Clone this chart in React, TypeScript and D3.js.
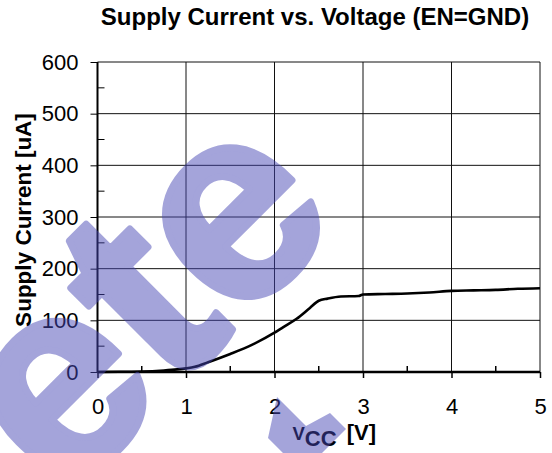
import * as d3 from 'd3';
import { useEffect, useRef } from 'react';

const WIDTH = 552;
const HEIGHT = 453;

const TITLE = 'Supply Current vs. Voltage (EN=GND)';
const Y_LABEL = 'Supply Current [uA]';

// supply current, VCC in volts, current in uA
const vcc = [0, 0.25, 0.5, 0.75, 0.9, 1.0, 1.1, 1.25, 1.5, 1.75, 2.0, 2.1, 2.25, 2.4, 2.5, 2.6, 2.75, 2.95, 3.0, 3.25, 3.5, 3.75, 4.0, 4.25, 4.5, 4.75, 5.0];
const current = [0, 0.5, 1, 3, 5, 7, 10, 19, 35, 53, 76, 87, 103, 124, 138, 142, 146, 147, 150, 151, 152, 154, 157, 158, 159, 161, 162];

const xTicks = [0, 1, 2, 3, 4, 5];
const xMinorTicks = [0.5, 1.5, 2.5, 3.5, 4.5];
const yTicks = [0, 100, 200, 300, 400, 500, 600];
const yMinorTicks = [50, 150, 250, 350, 450, 550];

const FONT = 'Arial, "Liberation Sans", Helvetica, sans-serif';

export default function App() {
    const svgRef = useRef<SVGSVGElement | null>(null);

    useEffect(() => {
        if (!svgRef.current) {
            return;
        }
        const svg = d3.select(svgRef.current);
        svg.selectAll('*').remove();

        const margin = { top: 62, right: 12, bottom: 81, left: 97.5 };
        const innerW = WIDTH - margin.left - margin.right;
        const innerH = HEIGHT - margin.top - margin.bottom;

        const x = d3.scaleLinear().domain([0, 5]).range([0, innerW]);
        const y = d3.scaleLinear().domain([0, 600]).range([innerH, 0]);

        const g = svg
            .append('g')
            .attr('transform', `translate(${margin.left},${margin.top})`);

        // grid
        g.append('g')
            .selectAll('line')
            .data(yTicks.slice(1))
            .join('line')
            .attr('x1', 0)
            .attr('x2', innerW)
            .attr('y1', (d) => y(d))
            .attr('y2', (d) => y(d))
            .attr('stroke', '#111')
            .attr('stroke-width', 1);
        g.append('g')
            .selectAll('line')
            .data(xTicks.slice(1))
            .join('line')
            .attr('x1', (d) => x(d))
            .attr('x2', (d) => x(d))
            .attr('y1', 0)
            .attr('y2', innerH)
            .attr('stroke', '#111')
            .attr('stroke-width', 1);

        // y axis: major ticks outside, minor inside
        const yAxis = g
            .append('g')
            .call(d3.axisLeft(y).tickValues(yTicks).tickSize(7).tickPadding(12).tickFormat(d3.format('d')));
        yAxis.select('.domain').remove();
        yAxis.selectAll('line').attr('stroke', '#000');
        yAxis
            .selectAll('text')
            .attr('font-family', FONT)
            .attr('font-size', '22px')
            .attr('fill', '#000');
        g.append('g')
            .selectAll('line')
            .data(yMinorTicks)
            .join('line')
            .attr('x1', 0)
            .attr('x2', 7)
            .attr('y1', (d) => y(d))
            .attr('y2', (d) => y(d))
            .attr('stroke', '#000');

        // x axis
        const xAxis = g
            .append('g')
            .attr('transform', `translate(0,${innerH})`)
            .call(d3.axisBottom(x).tickValues(xTicks).tickSize(6).tickPadding(20).tickFormat(d3.format('d')));
        xAxis.select('.domain').remove();
        xAxis.selectAll('line').attr('stroke', '#000').attr('stroke-width', 1.5);
        xAxis
            .selectAll('text')
            .attr('font-family', FONT)
            .attr('font-size', '22px')
            .attr('fill', '#000');
        g.append('g')
            .selectAll('line')
            .data(xMinorTicks)
            .join('line')
            .attr('x1', (d) => x(d))
            .attr('x2', (d) => x(d))
            .attr('y1', innerH)
            .attr('y2', innerH - 6)
            .attr('stroke', '#000')
            .attr('stroke-width', 1.5);

        // axis lines
        g.append('line')
            .attr('x1', 0)
            .attr('x2', 0)
            .attr('y1', 0)
            .attr('y2', innerH)
            .attr('stroke', '#000')
            .attr('stroke-width', 2);
        g.append('line')
            .attr('x1', 0)
            .attr('x2', innerW)
            .attr('y1', innerH)
            .attr('y2', innerH)
            .attr('stroke', '#000')
            .attr('stroke-width', 2.5);

        // curve
        const points = vcc.map((v, i) => ({ v, c: current[i] }));
        const line = d3
            .line<{ v: number; c: number }>()
            .x((d) => x(d.v))
            .y((d) => y(d.c))
            .curve(d3.curveMonotoneX);
        g.append('path')
            .datum(points)
            .attr('fill', 'none')
            .attr('stroke', '#000')
            .attr('stroke-width', 2.6)
            .attr('stroke-linejoin', 'round')
            .attr('d', line);

        // titles
        svg.append('text')
            .attr('x', 315)
            .attr('y', 25)
            .attr('text-anchor', 'middle')
            .attr('font-family', FONT)
            .attr('font-weight', 700)
            .attr('font-size', '24px')
            .attr('fill', '#000')
            .text(TITLE);

        svg.append('text')
            .attr('transform', `translate(31,${margin.top + innerH / 2 + 3}) rotate(-90)`)
            .attr('text-anchor', 'middle')
            .attr('font-family', FONT)
            .attr('font-weight', 700)
            .attr('font-size', '22.5px')
            .attr('fill', '#000')
            .text(Y_LABEL);

        const xl = svg
            .append('text')
            .attr('x', 292.5)
            .attr('y', 440)
            .attr('font-family', FONT)
            .attr('font-weight', 700)
            .attr('fill', '#000');
        xl.append('tspan').attr('font-size', '18.5px').text('V');
        xl.append('tspan').attr('font-size', '22px').attr('dy', 6).text('CC');
        xl.append('tspan').attr('font-size', '22px').attr('dy', -6).attr('dx', 4).text(' [V]');

        // watermark overlay
        const wm = svg.append('g').attr('opacity', 0.49).attr('fill', '#4747b5');
        wm.append('text')
            .attr('transform', 'translate(204,361) rotate(-45)')
            .attr('text-anchor', 'middle')
            .attr('font-family', FONT)
            .attr('font-weight', 700)
            .attr('font-size', '276px')
            .attr('stroke', '#4747b5')
            .attr('stroke-width', 7)
            .attr('stroke-linejoin', 'round')
            .text('ete');
        wm.append('path').attr(
            'd',
            'M277,397 L306,426 L330,413 L346,429 L322,453 L283,453 L268,438 Z',
        );
    }, []);

    return (
        <svg
            ref={svgRef}
            width={WIDTH}
            height={HEIGHT}
            style={{ position: 'absolute', left: 0, top: 0, background: '#fff' }}
        />
    );
}
